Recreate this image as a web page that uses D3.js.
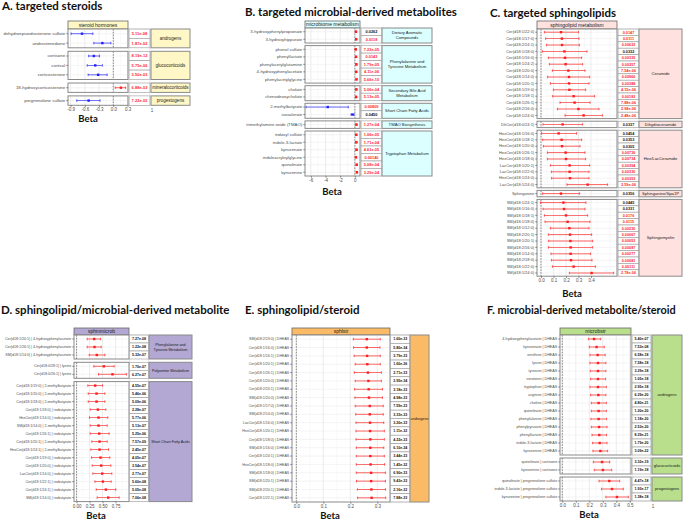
<!DOCTYPE html>
<html>
<head>
<meta charset="utf-8">
<script src="https://cdn.jsdelivr.net/npm/d3@7"></script>
<style>
  body { margin: 0; background: #fff; }
  svg { display: block; }
</style>
</head>
<body>
<svg width="685" height="520"></svg>
<script>
// ---- A. targeted steroids
const aLabels = ["dehydroepiandrosterone sulfate", "androstenedione", "cortisone", "cortisol", "corticosterone", "18-hydroxycorticosterone", "pregnenolone sulfate"];
const aGroup = ["androgens", "androgens", "glucocorticoids", "glucocorticoids", "glucocorticoids", "mineralocorticoids", "progestogens"];
const aBeta = [-0.66, -0.23, -0.41, -0.38, -0.32, 0.16, -0.52];
const aLo = [-0.89, -0.41, -0.52, -0.55, -0.53, 0.04, -0.77];
const aHi = [-0.43, -0.05, -0.29, -0.23, -0.13, 0.26, -0.28];
const aP = ["5.11e-08", "1.87e-02", "8.19e-12", "5.75e-06", "3.50e-03", "6.88e-03", "7.22e-05"];
const aTicks = [-0.9, -0.6, -0.3, 0, 0.3];

// ---- B. targeted microbial-derived metabolites
const bLabels = ["3-hydroxyphenylpropionate", "3-hydroxyhippurate", "phenol sulfate", "phenyllactate", "phenylacetylglutamine", "4-hydroxyphenylacetate", "phenylacetylglycine", "cholate", "chenodeoxycholate", "2-methylbutyrate", "isovalerate", "trimethylamine oxide (TMAO)", "indoxyl sulfate", "indole-3-lactate", "kynurenate", "indoleacryloylglycine", "quinolinate", "kynurenine"];
const bGroup = ["Dietary Aromatic Compounds", "Dietary Aromatic Compounds",
  "Phenylalanine and Tyrosine Metabolism", "Phenylalanine and Tyrosine Metabolism", "Phenylalanine and Tyrosine Metabolism", "Phenylalanine and Tyrosine Metabolism", "Phenylalanine and Tyrosine Metabolism",
  "Secondary Bile Acid Metabolism", "Secondary Bile Acid Metabolism",
  "Short Chain Fatty Acids", "Short Chain Fatty Acids",
  "TMAO Biosynthesis",
  "Tryptophan Metabolism", "Tryptophan Metabolism", "Tryptophan Metabolism", "Tryptophan Metabolism", "Tryptophan Metabolism", "Tryptophan Metabolism"];
const bBeta = [0.15, 0.18, 0.12, 0.16, 0.2, 0.18, 0.22, 0.2, 0.17, -3.7, -0.32, 0.21, 0.19, 0.2, 0.23, 0.15, 0.25, 0.28];
const bLo = [0.07, 0.1, 0.05, 0.08, 0.12, 0.1, 0.14, 0.12, 0.09, -6.67, -0.52, 0.13, 0.11, 0.12, 0.15, 0.07, 0.17, 0.2];
const bHi = [0.23, 0.26, 0.19, 0.24, 0.28, 0.26, 0.3, 0.28, 0.25, -0.9, -0.12, 0.29, 0.27, 0.28, 0.31, 0.23, 0.33, 0.36];
const bP = ["0.0262", "0.0118", "7.22e-05", "0.0143", "1.79e-05", "4.11e-06", "5.66e-10", "5.06e-04", "5.13e-05", "0.00809", "0.0450", "1.27e-04", "1.06e-05", "1.71e-04", "4.61e-05", "0.00140", "5.08e-04", "3.29e-04"];
const bTicks = [-6, -4, -2, 0];

// ---- C. targeted sphingolipids
const cLabels = ["Cer(d18:1/22:0)", "Cer(d18:1/17:0)", "Cer(d18:2/24:1)", "Cer(d18:1/18:0)", "Cer(d18:1/16:0)", "Cer(d18:1/24:2)", "Cer(d18:1/20:0)", "Cer(d18:1/14:0)", "Cer(d18:1/20:1)", "Cer(d18:1/19:0)", "Cer(d18:1/18:1)", "Cer(d18:1/26:1)", "Cer(d18:2/16:0)", "Cer(d18:1/24:0)",
  "DhCer(d18:0/24:1)",
  "HexCer(d18:1/16:0)", "HexCer(d18:1/18:1)", "HexCer(d18:1/20:0)", "HexCer(d18:1/26:1)", "HexCer(d18:1/18:0)", "LacCer(d18:1/20:1)", "LacCer(d18:1/22:0)", "HexCer(d18:1/24:0)", "LacCer(d18:1/24:0)",
  "Sphinganine",
  "SM(d18:1/24:1)", "SM(d18:1/16:0)", "SM(d18:1/18:1)", "SM(d18:1/18:0)", "SM(d18:1/12:0)", "SM(d18:2/20:1)", "SM(d18:1/20:1)", "SM(d18:2/16:0)", "SM(d18:1/14:0)", "SM(d18:2/18:0)", "SM(d18:1/22:0)", "SM(d18:1/24:0)"];
const cGroup = [].concat(Array(14).fill("Ceramide"), ["Dihydroceramide"], Array(9).fill("Hex/LacCeramide"), ["Sphinganine/Spa1P"], Array(12).fill("Sphingomyelin"));
const cBeta = [0.160, 0.167, 0.168, 0.187, 0.192, 0.197, 0.219, 0.224, 0.224, 0.227, 0.261, 0.269, 0.299, 0.341,
  0.173,
  0.141, 0.165, 0.168, 0.197, 0.200, 0.229, 0.229, 0.232, 0.373,
  0.160,
  0.179, 0.184, 0.200, 0.213, 0.227, 0.232, 0.235, 0.237, 0.237, 0.240, 0.261, 0.405];
const cLo = [0.027, 0.037, 0.043, 0.011, 0.059, 0.067, 0.091, 0.053, 0.075, 0.099, 0.093, 0.152, 0.131, 0.192,
  0.016,
  0.005, 0.013, 0.019, 0.051, 0.051, 0.075, 0.083, 0.085, 0.208,
  0.013,
  -0.005, 0.016, 0.027, 0.032, 0.075, 0.059, 0.061, 0.059, 0.080, 0.083, 0.091, 0.227];
const cHi = [0.299, 0.304, 0.307, 0.368, 0.325, 0.333, 0.352, 0.389, 0.384, 0.357, 0.429, 0.392, 0.464, 0.491,
  0.333,
  0.285, 0.325, 0.312, 0.352, 0.357, 0.389, 0.384, 0.384, 0.533,
  0.309,
  0.360, 0.352, 0.373, 0.392, 0.384, 0.405, 0.413, 0.413, 0.397, 0.408, 0.435, 0.581];
const cP = ["0.0147", "0.0111", "0.00633", "0.0332", "0.00335", "0.00357", "7.54e-06", "0.00966", "0.00388", "4.15e-06", "0.00183", "7.88e-06", "2.98e-06", "2.48e-06",
  "0.0337",
  "0.0454", "0.0353", "0.0305", "0.00736", "0.00734", "0.00394", "0.00330", "0.00353", "3.59e-06",
  "0.0356",
  "0.0445", "0.0331", "0.0176", "0.0115", "0.00230", "0.00067", "0.00053", "0.00087", "0.00277", "0.00081", "0.00111", "2.78e-06"];
const cTicks = [0, 0.1, 0.2, 0.3, 0.4];

// ---- D. sphingolipid/microbial-derived metabolite
const dLabels = ["Cer(d18:1/20:1) | 4-hydroxyphenylacetate", "Cer(d18:1/26:1) | 4-hydroxyphenylacetate", "SM(d18:1/14:0) | 4-hydroxyphenylacetate",
  "Cer(d18:0/28:1) | lysine", "Cer(d18:0/26:1) | lysine",
  "Cer(d18:1/19:0) | 2-methylbutyrate", "Cer(d18:1/20:0) | 2-methylbutyrate", "Cer(d18:1/18:0) | 2-methylbutyrate", "Cer(d18:1/18:0) | isobutyrate", "HexCer(d18:1/14:0) | isobutyrate",
  "SM(d18:1/14:0) | 2-methylbutyrate", "Cer(d18:1/26:1) | isobutyrate", "Cer(d18:1/20:1) | 2-methylbutyrate", "HexCer(d18:1/24:1) | 2-methylbutyrate", "Cer(d18:1/19:0) | isobutyrate",
  "Cer(d18:1/20:0) | isobutyrate", "LacCer(d18:1/14:0) | isobutyrate", "Cer(d18:1/22:1) | isobutyrate", "Cer(d18:1/24:1) | isobutyrate", "SM(d18:1/14:0) | isobutyrate"];
const dGroup = [].concat(Array(3).fill("Phenylalanine and Tyrosine Metabolism"), Array(2).fill("Polyamine Metabolism"), Array(15).fill("Short Chain Fatty Acids"));
const dBeta = [0.339, 0.346, 0.39, 0.525, 0.692, 0.358, 0.384, 0.384, 0.41, 0.423, 0.423, 0.436, 0.442, 0.442, 0.461, 0.474, 0.494, 0.507, 0.564, 0.609];
const dLo = [0.205, 0.205, 0.243, 0.333, 0.422, 0.217, 0.224, 0.224, 0.262, 0.249, 0.262, 0.262, 0.294, 0.275, 0.288, 0.301, 0.314, 0.353, 0.378, 0.397];
const dHi = [0.46, 0.474, 0.545, 0.724, 0.96, 0.5, 0.545, 0.545, 0.564, 0.602, 0.589, 0.628, 0.589, 0.615, 0.641, 0.66, 0.679, 0.666, 0.756, 0.82];
const dP = ["7.27e-08", "1.22e-08", "5.32e-07", "1.70e-07", "6.27e-07", "4.55e-07", "5.46e-06", "5.09e-06", "2.28e-07", "5.77e-06", "5.13e-07", "5.25e-06", "7.57e-09", "2.45e-07", "4.05e-07", "3.54e-07", "2.77e-07", "5.60e-08", "5.05e-08", "7.06e-08"];
const dTicks = [0, 0.25, 0.5, 0.75];

// ---- E. sphingolipid/steroid
const eLabels = ["SM(d18:2/23:0) | DHEAS", "Cer(d18:1/16:0) | DHEAS", "Cer(d18:1/16:1) | DHEAS", "Cer(d18:1/20:1) | DHEAS", "Cer(d18:1/26:1) | DHEAS", "Cer(d18:1/20:0) | DHEAS", "Cer(d18:2/24:1) | DHEAS", "SM(d18:1/20:0) | DHEAS", "Cer(d18:1/17:0) | DHEAS", "SM(d18:2/14:0) | DHEAS",
  "LacCer(d18:1/16:0) | DHEAS", "HexCer(d18:1/20:1) | DHEAS", "Cer(d18:1/18:0) | DHEAS", "SM(d18:1/16:0) | DHEAS", "Cer(d18:1/24:1) | DHEAS", "HexCer(d18:1/18:0) | DHEAS", "SM(d18:1/18:0) | DHEAS", "SM(d18:1/20:1) | DHEAS", "SM(d18:2/20:1) | DHEAS", "Cer(d18:1/22:1) | DHEAS"];
const eGroup = Array(20).fill("androgens");
const eBeta = [0.261, 0.261, 0.262, 0.263, 0.265, 0.267, 0.268, 0.269, 0.272, 0.272, 0.273, 0.273, 0.274, 0.274, 0.274, 0.275, 0.277, 0.277, 0.278, 0.279];
const eLo = [0.211, 0.212, 0.214, 0.218, 0.215, 0.218, 0.216, 0.217, 0.218, 0.220, 0.221, 0.221, 0.221, 0.222, 0.222, 0.222, 0.222, 0.223, 0.226, 0.227];
const eHi = [0.311, 0.310, 0.311, 0.311, 0.315, 0.315, 0.319, 0.319, 0.322, 0.322, 0.324, 0.326, 0.326, 0.324, 0.326, 0.327, 0.330, 0.330, 0.330, 0.331];
const eP = ["1.60e-33", "5.80e-34", "3.79e-33", "1.60e-36", "2.71e-33", "2.95e-34", "3.18e-33", "4.98e-33", "7.59e-33", "3.33e-33", "3.20e-33", "1.11e-32", "4.22e-33", "6.10e-34", "3.44e-33", "1.45e-32", "6.90e-33", "9.43e-33", "2.16e-32", "7.88e-33"];
const eTicks = [0, 0.1, 0.2, 0.3];

// ---- F. microbial-derived metabolite/steroid
const fLabels = ["4-hydroxyphenylacetate | DHEAS", "kynurenate | DHEAS", "ornithine | DHEAS", "lysine | DHEAS", "tyrosine | DHEAS", "serotonin | DHEAS", "tryptophan | DHEAS", "arginine | DHEAS", "choline | DHEAS", "quinolinate | DHEAS", "phenylalanine | DHEAS", "phenylpyruvate | DHEAS", "phenyllactate | DHEAS", "indole-3-lactate | DHEAS", "kynurenine | DHEAS",
  "quinolinate | cortisone", "kynurenine | cortisone",
  "quinolinate | pregnenolone sulfate", "indole-3-lactate | pregnenolone sulfate", "kynurenine | pregnenolone sulfate"];
const fGroup = [].concat(Array(15).fill("androgens"), Array(2).fill("glucocorticoids"), Array(3).fill("progestogens"));
const fBeta = [0.235, 0.254, 0.262, 0.264, 0.264, 0.264, 0.264, 0.267, 0.269, 0.269, 0.269, 0.272, 0.274, 0.277, 0.282, 0.294, 0.301, 0.348, 0.368, 0.405];
const fLo = [0.193, 0.2, 0.205, 0.205, 0.207, 0.21, 0.205, 0.21, 0.215, 0.215, 0.212, 0.215, 0.22, 0.225, 0.227, 0.23, 0.237, 0.272, 0.291, 0.323];
const fHi = [0.284, 0.311, 0.318, 0.323, 0.323, 0.321, 0.326, 0.323, 0.326, 0.326, 0.328, 0.331, 0.328, 0.331, 0.336, 0.351, 0.366, 0.425, 0.452, 0.489];
const fP = ["5.40e-07", "7.53e-08", "6.58e-18", "7.58e-18", "3.29e-18", "1.05e-18", "2.95e-18", "6.29e-20", "4.80e-21", "1.20e-20", "1.18e-20", "2.53e-20", "8.29e-21", "1.79e-20", "3.09e-22", "3.32e-19", "1.19e-18", "4.47e-18", "1.93e-17", "1.38e-18"];
const fTicks = [0, 0.1, 0.2, 0.3, 0.4, 0.5];

const svg = d3.select("svg");
const sans = "'Liberation Sans', Arial, sans-serif";
const head = "Lato, 'Open Sans', sans-serif";
const red = "#ff1f1f";
const blue = "#1f1fff";

function wrap(sel, width) {
  sel.each(function () {
    const t = d3.select(this);
    const words = t.text().split(" ");
    const x = t.attr("x");
    t.text(null);
    const probe = t.append("tspan");
    const lines = [];
    let line = [];
    words.forEach(w => {
      line.push(w);
      probe.text(line.join(" "));
      if (probe.node().getComputedTextLength() > width && line.length > 1) {
        line.pop();
        lines.push(line.join(" "));
        line = [w];
      }
    });
    lines.push(line.join(" "));
    probe.remove();
    lines.forEach((l, k) => {
      t.append("tspan").attr("x", x)
        .attr("dy", k === 0 ? (0.35 - (lines.length - 1) * 0.6) + "em" : "1.2em")
        .text(l);
    });
  });
}

function drawPanel(p) {
  const g = svg.append("g");

  g.append("text")
    .attr("x", p.titleX).attr("y", p.titleY)
    .attr("font-family", head).attr("font-weight", 700).attr("font-size", p.titleSize || 11.5)
    .attr("fill", "#111")
    .text(p.title);

  const x = d3.scaleLinear().domain(p.domain).range([p.x0, p.x1]);
  const idx = d3.range(p.labels.length);
  const names = Array.from(new Set(p.group));
  let yy = p.top;
  const facets = names.map(name => {
    const rows = idx.filter(i => p.group[i] === name);
    const f = { name, rows, y0: yy, y1: yy + rows.length * p.rowH };
    yy = f.y1 + p.gap;
    return f;
  });
  const bottom = facets[facets.length - 1].y1;

  // strip on top of the plot
  g.append("rect")
    .attr("x", p.x0).attr("y", p.top - p.stripH)
    .attr("width", p.x1 - p.x0).attr("height", p.stripH)
    .attr("fill", p.fill).attr("stroke", "#666").attr("stroke-width", 0.8);
  g.append("text")
    .attr("x", (p.x0 + p.x1) / 2).attr("y", p.top - p.stripH / 2)
    .attr("dy", "0.35em").attr("text-anchor", "middle")
    .attr("font-family", sans).attr("font-size", 5).attr("fill", "#1a1a1a")
    .text(p.strip);

  const step = p.ticks[1] - p.ticks[0];
  const minor = d3.range(p.ticks[0] - step / 2, p.domain[1], step)
    .filter(v => v > p.domain[0] && v < p.domain[1]);

  facets.forEach(f => {
    const y = d3.scaleBand().domain(f.rows).range([f.y0, f.y1]);
    const cy = i => y(i) + y.bandwidth() / 2;
    const fg = g.append("g");

    fg.append("rect")
      .attr("x", p.x0).attr("y", f.y0)
      .attr("width", p.x1 - p.x0).attr("height", f.y1 - f.y0)
      .attr("fill", "#fff");

    fg.selectAll(".minor").data(minor).join("line")
      .attr("x1", d => x(d)).attr("x2", d => x(d))
      .attr("y1", f.y0).attr("y2", f.y1)
      .attr("stroke", "#f2f2f2").attr("stroke-width", 0.5);
    fg.selectAll(".major").data(p.ticks).join("line")
      .attr("x1", d => x(d)).attr("x2", d => x(d))
      .attr("y1", f.y0).attr("y2", f.y1)
      .attr("stroke", "#e4e4e4").attr("stroke-width", 0.7);
    fg.selectAll(".hgrid").data(f.rows).join("line")
      .attr("x1", p.x0).attr("x2", p.x1)
      .attr("y1", cy).attr("y2", cy)
      .attr("stroke", "#ececec").attr("stroke-width", 0.6);

    fg.append("line")
      .attr("x1", x(0)).attr("x2", x(0))
      .attr("y1", f.y0).attr("y2", f.y1)
      .attr("stroke", "#444").attr("stroke-width", 0.6)
      .attr("stroke-dasharray", "1.6,1.2");

    const col = i => p.beta[i] < 0 ? blue : red;
    const cap = Math.min(2.6, y.bandwidth() * 0.4);

    fg.selectAll(".ci").data(f.rows).join("line")
      .attr("x1", i => x(p.lo[i])).attr("x2", i => x(p.hi[i]))
      .attr("y1", cy).attr("y2", cy)
      .attr("stroke", col).attr("stroke-width", 0.8).attr("opacity", 0.85);
    fg.selectAll(".capL").data(f.rows).join("line")
      .attr("x1", i => x(p.lo[i])).attr("x2", i => x(p.lo[i]))
      .attr("y1", i => cy(i) - cap / 2).attr("y2", i => cy(i) + cap / 2)
      .attr("stroke", col).attr("stroke-width", 0.7);
    fg.selectAll(".capR").data(f.rows).join("line")
      .attr("x1", i => x(p.hi[i])).attr("x2", i => x(p.hi[i]))
      .attr("y1", i => cy(i) - cap / 2).attr("y2", i => cy(i) + cap / 2)
      .attr("stroke", col).attr("stroke-width", 0.7);
    fg.selectAll(".pt").data(f.rows).join("rect")
      .attr("x", i => x(p.beta[i]) - 1.2).attr("y", i => cy(i) - 1.2)
      .attr("width", 2.4).attr("height", 2.4)
      .attr("fill", col);

    fg.append("rect")
      .attr("x", p.x0).attr("y", f.y0)
      .attr("width", p.x1 - p.x0).attr("height", f.y1 - f.y0)
      .attr("fill", "none").attr("stroke", "#8a8a8a").attr("stroke-width", 1);

    const ax = fg.append("g")
      .attr("transform", `translate(${p.x0},0)`)
      .call(d3.axisLeft(y).tickSize(1.8).tickPadding(1).tickFormat(i => p.labels[i]));
    ax.select(".domain").remove();
    ax.selectAll("line").attr("stroke", "#333").attr("stroke-width", 0.5);
    ax.selectAll("text")
      .attr("font-family", sans).attr("font-size", p.labelSize).attr("fill", "#4d4d4d");

    // p-value cells
    fg.selectAll(".pcell").data(f.rows).join("rect")
      .attr("x", p.pX0).attr("y", i => y(i))
      .attr("width", p.pW).attr("height", y.bandwidth())
      .attr("fill", "#fff").attr("stroke", "#999").attr("stroke-width", 0.6);
    fg.selectAll(".ptext").data(f.rows).join("text")
      .attr("x", p.pX0 + p.pW / 2).attr("y", cy).attr("dy", "0.35em")
      .attr("text-anchor", "middle")
      .attr("font-family", sans).attr("font-weight", 700).attr("font-size", p.pSize)
      .attr("fill", i => (p.sig !== null && +p.pval[i] < p.sig) ? red : "#111")
      .text(i => p.pval[i]);

    // group cell
    fg.append("rect")
      .attr("x", p.gX0).attr("y", f.y0)
      .attr("width", p.gW).attr("height", f.y1 - f.y0)
      .attr("fill", p.fill).attr("stroke", "#8a8a8a").attr("stroke-width", 1);
    fg.append("text")
      .attr("x", p.gX0 + p.gW / 2).attr("y", (f.y0 + f.y1) / 2)
      .attr("text-anchor", "middle")
      .attr("font-family", sans).attr("font-size", p.groupSize).attr("fill", "#1a1a1a")
      .text(f.name)
      .call(wrap, p.gW - 2);
  });

  // outer frame of the p-value column
  g.append("rect")
    .attr("x", p.pX0).attr("y", p.top)
    .attr("width", p.pW).attr("height", bottom - p.top)
    .attr("fill", "none").attr("stroke", "#bbb").attr("stroke-width", 0.4);

  const xa = g.append("g")
    .attr("transform", `translate(0,${bottom})`)
    .call(d3.axisBottom(x).tickValues(p.ticks).tickSize(1.8).tickPadding(1).tickFormat(p.fmt));
  xa.select(".domain").remove();
  xa.selectAll("line").attr("stroke", "#333").attr("stroke-width", 0.5);
  xa.selectAll("text").attr("font-family", sans).attr("font-size", 4.5).attr("fill", "#4d4d4d");

  if (p.one) {
    g.append("text")
      .attr("x", p.gX0 + 1).attr("y", bottom + 6.5)
      .attr("text-anchor", "middle")
      .attr("font-family", sans).attr("font-size", 4.5).attr("fill", "#4d4d4d")
      .text("1");
  }

  g.append("text")
    .attr("x", p.betaX).attr("y", bottom + p.betaDy)
    .attr("text-anchor", "middle")
    .attr("font-family", head).attr("font-weight", 700).attr("font-size", 9.5)
    .attr("fill", "#111")
    .text("Beta");
}

const fmt1 = d => d.toFixed(1);

drawPanel({
  title: "A. targeted steroids", titleX: 2, titleY: 10,
  labels: aLabels, group: aGroup, beta: aBeta, lo: aLo, hi: aHi, pval: aP, sig: 0.02,
  strip: "steroid hormones", fill: "#fff8c6",
  x0: 68, x1: 128, domain: [-0.955, 0.31], ticks: aTicks, fmt: fmt1,
  top: 29, stripH: 8, rowH: 9.4, gap: 3.5,
  pX0: 129, pW: 21, gX0: 151, gW: 39,
  labelSize: 4.4, pSize: 4, groupSize: 4.5,
  betaX: 88, betaDy: 17, one: true
});

drawPanel({
  title: "B. targeted microbial-derived metabolites", titleX: 245, titleY: 16,
  labels: bLabels, group: bGroup, beta: bBeta, lo: bLo, hi: bHi, pval: bP, sig: 0.02,
  strip: "microbiome metabolism", fill: "#dcffff",
  x0: 305, x1: 360, domain: [-6.8, 0.7], ticks: bTicks, fmt: d => d,
  top: 28, stripH: 7, rowH: 7.5, gap: 2.6,
  pX0: 361, pW: 21, gX0: 382, gW: 50,
  labelSize: 4.3, pSize: 3.9, groupSize: 4.2,
  betaX: 332, betaDy: 19, one: false
});

drawPanel({
  title: "C. targeted sphingolipids", titleX: 490, titleY: 17,
  labels: cLabels, group: cGroup, beta: cBeta, lo: cLo, hi: cHi, pval: cP, sig: 0.02,
  strip: "sphingolipid metabolism", fill: "#ffe1df",
  x0: 537, x1: 617, domain: [-0.032, 0.608], ticks: cTicks, fmt: fmt1,
  top: 29, stripH: 8, rowH: 6.4, gap: 2.6,
  pX0: 618, pW: 21, gX0: 639, gW: 43,
  labelSize: 4, pSize: 3.8, groupSize: 4.2,
  betaX: 572, betaDy: 21, one: false
});

drawPanel({
  title: "D. sphingolipid/microbial-derived metabolite", titleX: 1, titleY: 314,
  labels: dLabels, group: dGroup, beta: dBeta, lo: dLo, hi: dHi, pval: dP, sig: null,
  strip: "sphinmicrob", fill: "#b2a8d3",
  x0: 74, x1: 129, domain: [-0.05, 1.01], ticks: dTicks, fmt: d3.format(".2f"),
  top: 335, stripH: 7, rowH: 8, gap: 3.3,
  pX0: 129.5, pW: 19, gX0: 149, gW: 43,
  labelSize: 3.6, pSize: 3.6, groupSize: 3.7,
  betaX: 96, betaDy: 17, one: false
});

drawPanel({
  title: "E. sphingolipid/steroid", titleX: 245, titleY: 314,
  labels: eLabels, group: eGroup, beta: eBeta, lo: eLo, hi: eHi, pval: eP, sig: null,
  strip: "sphlstr", fill: "#fbbb66",
  x0: 292, x1: 390, domain: [-0.016, 0.347], ticks: eTicks, fmt: fmt1,
  top: 335, stripH: 7, rowH: 8.35, gap: 0,
  pX0: 390.5, pW: 19.5, gX0: 410, gW: 19,
  labelSize: 3.6, pSize: 3.6, groupSize: 3.8,
  betaX: 330, betaDy: 17, one: false
});

drawPanel({
  title: "F. microbial-derived metabolite/steroid", titleX: 487, titleY: 314, titleSize: 10.9,
  labels: fLabels, group: fGroup, beta: fBeta, lo: fLo, hi: fHi, pval: fP, sig: null,
  strip: "microbstr", fill: "#b9de8c",
  x0: 560, x1: 631, domain: [-0.017, 0.509], ticks: fTicks, fmt: fmt1,
  top: 335, stripH: 7, rowH: 8, gap: 3,
  pX0: 632, pW: 19, gX0: 652, gW: 30,
  labelSize: 3.7, pSize: 3.6, groupSize: 4,
  betaX: 589, betaDy: 17, one: true
});
</script>
</body>
</html>
